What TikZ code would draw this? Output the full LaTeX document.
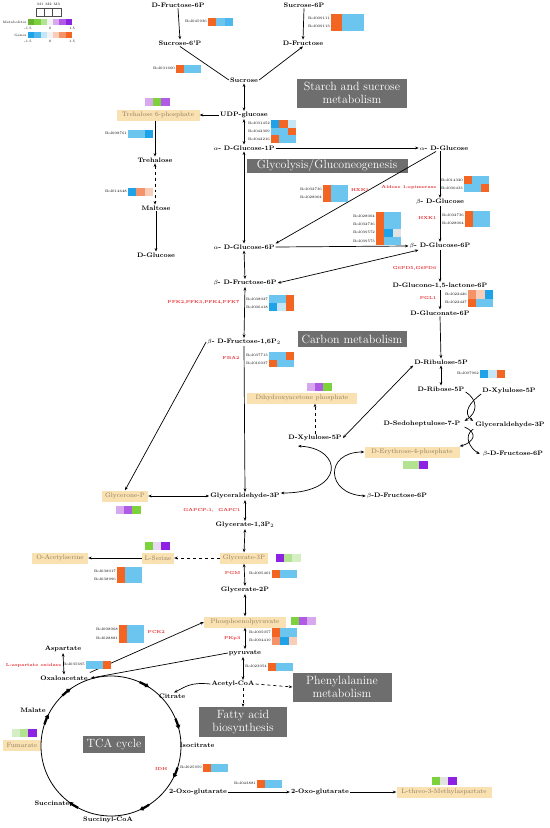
\documentclass[tikz,border=0pt]{standalone}
\usepackage{tikz}
\usetikzlibrary{arrows.meta,calc}
\definecolor{cO}{HTML}{F26522}
\definecolor{cLB}{HTML}{6CC5EF}
\definecolor{cLBb}{HTML}{4DB8EE}
\definecolor{cB}{HTML}{1FA2E8}
\definecolor{cVLB}{HTML}{C5E6F6}
\definecolor{cGR}{HTML}{E3E3E3}
\definecolor{cS}{HTML}{F4936A}
\definecolor{cLS}{HTML}{F9CDB8}
\definecolor{mG}{HTML}{7DD13A}
\definecolor{mLG}{HTML}{B3E290}
\definecolor{mVLG}{HTML}{D3EFC3}
\definecolor{mDP}{HTML}{8E22E2}
\definecolor{mMP}{HTML}{AF5BE6}
\definecolor{mLP}{HTML}{D7A8F0}
\definecolor{mVLP}{HTML}{E7DAF2}
\definecolor{mGR}{HTML}{E2E2E2}
\definecolor{boxfill}{HTML}{FAE1B2}
\definecolor{boxtext}{HTML}{8C7B5E}
\definecolor{greybox}{HTML}{6E6E6E}
\definecolor{enzred}{HTML}{E5262A}
\newcommand\hmw{8.3}
\newcommand\hmh{7.5}
\newcommand\hmrow[6]{%
  \node[gid] (#3) at ({#1-0.6},{#2+\hmh/2}) {#3};
  \fill[#4] (#1,#2) rectangle ++(\hmw,\hmh);
  \fill[#5] ({#1+\hmw},#2) rectangle ++(\hmw,\hmh);
  \fill[#6] ({#1+2*\hmw},#2) rectangle ++(\hmw,\hmh);
}
\newcommand\mcells[5]{%
  \fill[#3] (#1,#2) rectangle ++(8.2,7.5);
  \fill[#4] ({#1+8.2},#2) rectangle ++(8.2,7.5);
  \fill[#5] ({#1+16.4},#2) rectangle ++(8.2,7.5);
}
\begin{document}
\begin{tikzpicture}[x=1bp,y=-1bp,
  met/.style={font=\bfseries\fontsize{6.5}{7}\selectfont, inner sep=1pt},
  hbox/.style={fill=boxfill, text=boxtext, font=\fontsize{6.5}{7}\selectfont, inner sep=1.5pt, minimum height=11bp},
  gbox/.style={fill=greybox, text=white, font=\fontsize{12}{13.5}\selectfont, align=center, inner sep=1pt},
  enz/.style={text=enzred, font=\bfseries\fontsize{4.3}{5}\selectfont, inner sep=0.5pt},
  gid/.style={font=\fontsize{3.6}{4}\selectfont, inner sep=0.3pt, anchor=east},
  arr/.style={-{Stealth[length=3.5bp,width=2.8bp]}, line width=0.7bp},
  darr/.style={{Stealth[length=3.5bp,width=2.8bp]}-{Stealth[length=3.5bp,width=2.8bp]}, line width=0.7bp},
  ln/.style={line width=0.7bp},
  lg/.style={font=\fontsize{3.4}{4}\selectfont, inner sep=0.3pt}]
\useasboundingbox (0,0) rectangle (550,828);

% ---------- legend ----------
\node[lg] (lm1) at (40.2,4.5) {M1};
\node[lg] (lm2) at (48.5,4.5) {M2};
\node[lg] (lm3) at (56.8,4.5) {M3};
\foreach \i in {0,1,2} \draw[black!70, line width=0.5bp] ({36+\i*8.3},8) rectangle ++(8.3,8);
\node[lg, anchor=east] (lmet) at (27,22) {Metabolites};
\node[lg, anchor=east] (lgen) at (27,35) {Genes};
\foreach \c [count=\i from 0] in {mG!85!black,mG,mLG,white!95!black,mLP,mMP,mDP}
  \fill[\c] ({28+\i*6.29},19) rectangle ++(6.29,6);
\foreach \c [count=\i from 0] in {cB,cLBb,cVLB,white!95!black,cLS,cS,cO}
  \fill[\c] ({28+\i*6.29},32) rectangle ++(6.29,6);
\node[lg] (t1) at (28,28) {-1.5};
\node[lg] (t2) at (50,28) {0};
\node[lg] (t3) at (72,28) {1.5};
\node[lg] (t4) at (28,41.5) {-1.5};
\node[lg] (t5) at (50,41.5) {0};
\node[lg] (t6) at (72,41.5) {1.5};

% ---------- grey pathway boxes ----------
\node[gbox, minimum width=110bp, minimum height=29bp] (starch) at (352,93) {Starch and sucrose\\metabolism};
\node[gbox, minimum width=161bp, minimum height=14bp] (glyco) at (327,166) {Glycolysis/Gluconeogenesis};
\node[gbox, minimum width=109bp, minimum height=16bp] (carbon) at (352,339) {Carbon metabolism};
\node[gbox, minimum width=62bp, minimum height=17bp] (tca) at (114,744) {TCA cycle};
\node[gbox, minimum width=99bp, minimum height=29bp] (phe) at (342,687) {Phenylalanine\\metabolism};
\node[gbox, minimum width=88bp, minimum height=30bp] (fatty) at (243,722) {Fatty acid\\biosynthesis};

% ---------- metabolites ----------
\node[met] (fru6p) at (178,5) {D-Fructose-6P};
\node[met] (suc6p) at (304,5) {Sucrose-6P};
\node[met] (suc6pp) at (180,43) {Sucrose-6'P};
\node[met] (dfru) at (303,43) {D-Fructose};
\node[met] (sucrose) at (244,80) {Sucrose};
\node[met] (udpg) at (244,115) {UDP-glucose};
\node[hbox, minimum width=83bp] (t6p) at (158,115) {Trehalose 6-phosphate};
\node[met] (treh) at (155,160) {Trehalose};
\node[met] (malt) at (156,208) {Maltose};
\node[met] (dglc) at (156,255) {D-Glucose};
\node[met] (ag1p) at (244,148) {$\alpha$- D-Glucose-1P};
\node[met] (aglc) at (444,148) {$\alpha$- D-Glucose};
\node[met] (ag6p) at (244,247) {$\alpha$- D-Glucose-6P};
\node[met] (bglc) at (440,202) {$\beta$- D-Glucose};
\node[met] (bg6p) at (440,246) {$\beta$- D-Glucose-6P};
\node[met] (glucono) at (440,286) {D-Glucono-1,5-lactone-6P};
\node[met] (gluconate) at (440,313) {D-Gluconate-6P};
\node[met] (ribu) at (441,362) {D-Ribulose-5P};
\node[met] (ribo) at (441,389) {D-Ribose-5P};
\node[met] (xylR) at (509,391) {D-Xylulose-5P};
\node[met] (sedo) at (422,424) {D-Sedoheptulose-7-P};
\node[met] (gapR) at (510,425) {Glyceraldehyde-3P};
\node[met] (f6pR) at (513,454) {$\beta$-D-Fructose-6P};
\node[hbox, minimum width=95bp] (e4p) at (412,452) {D-Erythrose-4-phosphate};
\node[met] (xylL) at (315,438) {D-Xylulose-5P};
\node[hbox, minimum width=110bp] (dhap) at (302,398) {Dihydroxyacetone phosphate};
\node[met] (bf6p) at (245,283) {$\beta$- D-Fructose-6P};
\node[met] (bf16) at (244,342) {$\beta$- D-Fructose-1,6P$_2$};
\node[met] (gap) at (245,496) {Glyceraldehyde-3P};
\node[hbox, minimum width=46bp] (gly) at (125,496) {Glycerone-P};
\node[met] (f6pM) at (397,496) {$\beta$-D-Fructose-6P};
\node[met] (g13) at (245,525) {Glycerate-1,3P$_2$};
\node[hbox, minimum width=48bp] (g3p) at (244,558) {Glycerate-3P};
\node[hbox, minimum width=32bp] (ser) at (158,558) {L-Serine};
\node[hbox, minimum width=56bp] (oas) at (60,558) {O-Acetylserine};
\node[met] (g2p) at (245,590) {Glycerate-2P};
\node[hbox, minimum width=82bp] (pep) at (245,622) {Phosphoenolpyruvate};
\node[met] (pyr) at (245,653) {pyruvate};
\node[met] (acoa) at (233,684) {Acetyl-CoA};
\node[met] (cit) at (172,696) {Citrate};
\node[met] (isocit) at (197,745) {Isocitrate};
\node[met] (oxo1) at (198,792) {2-Oxo-glutarate};
\node[met] (oxo2) at (320,792) {2-Oxo-glutarate};
\node[hbox, minimum width=95bp] (meth) at (444,792) {L-threo-3-Methylaspartate};
\node[met] (succoa) at (108,820) {Succinyl-CoA};
\node[met] (succ) at (52,803) {Succinate};
\node[hbox, minimum width=38bp] (fum) at (22,745) {Fumarate};
\node[met] (mal) at (33,710) {Malate};
\node[met] (oaa) at (64,678) {Oxaloacetate};
\node[met] (asp) at (63,649) {Aspartate};

% ---------- connectors ----------
\draw[arr] (fru6p.south) -- (suc6pp.north);
\draw[arr] (suc6p.south) -- (dfru.north);
\draw[ln] (suc6pp.south) -- (sucrose.west);
\draw[arr] (sucrose.east) -- (dfru.south);
\draw[darr] (sucrose.south) -- (udpg.north);
\draw[arr] (udpg.west) -- (t6p.east);
\draw[arr] (t6p.south -| treh.north) -- (treh.north);
\draw[darr, dashed] (treh.south) -- (treh.south |- malt.north);
\draw[arr] (malt.south) -- (dglc.north);
\draw[darr] (udpg.south) -- (ag1p.north);
\draw[arr] (ag1p.east) -- (aglc.west);
\draw[darr] (ag1p.south) -- (ag6p.north);
\draw[arr] ([xshift=-8bp]aglc.south) -- (ag6p.north east);
\draw[arr] (ag6p.east) -- (bg6p.west);
\draw[arr] (aglc.south -| bglc.north) -- (bglc.north);
\draw[arr] (bglc.south) -- (bg6p.north);
\draw[darr] (bf6p.east) -- ([xshift=10bp]bg6p.south west);
\draw[darr] (ag6p.south) -- (bf6p.north);
\draw[darr] (bf6p.south) -- (bf16.north);
\draw[arr] (bg6p.south) -- (glucono.north);
\draw[arr] (glucono.south) -- (gluconate.north);
\draw[arr] (gluconate.south) -- (ribu.north);
\draw[darr] (ribu.south) -- (ribo.north);
\draw[darr] (xylL.east) -- (ribu.south west);
\draw[arr, dashed] (xylL.north) -- (xylL.north |- dhap.south);
\draw[arr] (bf16.west) -- (gly.north);
\draw[arr] (bf16.south) -- (gap.north);
\draw[darr] (gly.east) -- (gap.west);
\draw[darr] ([xshift=-17bp,yshift=-4bp]xylL.south) .. controls +(45,2) and +(65,0) .. ([yshift=3bp]gap.east);
\draw[darr] (e4p.west) .. controls +(-40,0) and +(-40,-2) .. (f6pM.west);
\draw[arr] ([yshift=-3bp]ribo.east) .. controls +(13,8) and +(13,-8) .. ([xshift=3bp,yshift=-1bp]sedo.north east);
\draw[arr] ([yshift=-3bp]xylR.west) .. controls +(-11,8) and +(-11,-8) .. ([xshift=-1bp]gapR.north west);
\draw[arr] ([xshift=3bp,yshift=1bp]sedo.south east) .. controls +(14,6) and +(14,-4) .. (e4p.north east);
\draw[arr] ([xshift=-1bp]gapR.south west) .. controls +(-10,7) and +(-10,-6) .. ([xshift=-2bp]f6pR.west);
\draw[darr] (gap.south) -- (g13.north);
\draw[darr] (g13.south) -- (g3p.north);
\draw[arr, dashed] (g3p.west) -- (ser.east);
\draw[arr] (ser.west) -- (oas.east);
\draw[darr] (g3p.south) -- (g2p.north);
\draw[darr] (g2p.south) -- (pep.north);
\draw[darr] (pep.south) -- (pyr.north);
\draw[darr] ([xshift=-2bp]pyr.south) -- ([xshift=-2bp]pyr.south |- acoa.north);
\draw[arr, dashed] (acoa.east) -- (phe.west);
\draw[arr, dashed] ([xshift=10bp]acoa.south) -- ([xshift=10bp]acoa.south |- fatty.north);
\draw[arr] (acoa.west) .. controls +(-20,-2) and +(12,-6) .. ([xshift=2bp]cit.north);
\draw[arr] ([xshift=1bp,yshift=2bp]oaa.north east) -- (pep.west);
\draw[arr] (pyr.west) -- ([xshift=2bp]oaa.east);
\draw[darr] (asp.south) -- (oaa.north);
\draw[arr] (oxo1.east) -- (oxo2.west);
\draw[arr] (oxo2.east) -- (meth.west);

% ---------- TCA cycle ----------
\coordinate (tc) at (111,746);
\draw[line width=0.8bp] (tc) circle[radius=70bp];
\foreach \a in {134,66,23,-18,-57,-118,162}
  \draw[line width=2.3bp, -{Triangle[length=4bp,width=4.5bp]}] ($(tc)+(\a:70bp)$) arc[start angle=\a, end angle=\a-9, radius=70bp];

% ---------- enzymes ----------
\node[enz] (e1) at (360,190) {HXK1};
\node[enz, anchor=east] (e2) at (437,187) {Aldose 1-epimerase};
\node[enz, anchor=east] (e3) at (437,218) {HXK1};
\node[enz, anchor=east] (e4) at (437,268) {G6PD5,G6PD6};
\node[enz, anchor=east] (e5) at (437,298) {PGL1};
\node[enz, anchor=east] (e6) at (240,302) {PFK2,PFK3,PFK4,PFK7};
\node[enz, anchor=east] (e7) at (240,358) {FBA2};
\node[enz, anchor=east] (e8) at (241,510) {GAPCP-1,\ \ GAPC1};
\node[enz, anchor=east] (e9) at (241,573) {PGM};
\node[enz, anchor=west] (e10) at (147,632) {PCK2};
\node[enz, anchor=east] (e11) at (241,638) {PKp3};
\node[enz, anchor=east] (e12) at (62,665) {L-aspartate oxidase};
\node[enz, anchor=east] (e13) at (168,769) {IDH};

% ---------- gene heat maps ----------
\hmrow{208}{18}{Bol045936}{cO}{cLB}{cLBb}
{\renewcommand\hmw{11}\renewcommand\hmh{8.5}
 \hmrow{331}{14}{Bol009111}{cO}{cLB}{cLB}
 \hmrow{331}{22.5}{Bol009113}{cO}{cLB}{cLB}}
\hmrow{176}{65}{Bol031600}{cO}{cLB}{cLB}
\hmrow{271}{120}{Bol031452}{cB}{cO}{cVLB}
\hmrow{271}{127.7}{Bol042309}{cLB}{cLB}{cO}
\hmrow{271}{135.4}{Bol042216}{cO}{cLB}{cLB}
\hmrow{128}{130}{Bol008761}{cLB}{cLB}{cB}
\hmrow{128}{188}{Bol014648}{cB}{cS}{cLS}
{\renewcommand\hmh{8.5}
 \hmrow{323}{185}{Bol032736}{cO}{cLB}{cLB}
 \hmrow{323}{193.5}{Bol028004}{cO}{cLB}{cLB}}
{\renewcommand\hmh{8.25}
 \hmrow{376}{212}{Bol028004}{cO}{cLB}{cLB}
 \hmrow{376}{220.25}{Bol032736}{cO}{cLB}{cLB}
 \hmrow{376}{228.5}{Bol039572}{cO}{cB}{cGR}
 \hmrow{376}{236.75}{Bol039573}{cO}{cLB}{cLB}}
{\renewcommand\hmh{8}
 \hmrow{464}{176}{Bol014320}{cO}{cLB}{cLB}
 \hmrow{464}{184}{Bol030433}{cLB}{cLB}{cO}
 \hmrow{465}{211}{Bol032736}{cO}{cLB}{cLB}
 \hmrow{465}{219}{Bol028004}{cO}{cLB}{cLB}}
{\renewcommand\hmh{8.5}
 \hmrow{468}{290}{Bol022426}{cS}{cLS}{cB}
 \hmrow{468}{298.5}{Bol022427}{cO}{cLB}{cLB}}
\hmrow{480}{370}{Bol007962}{cB}{cVLB}{cO}
{\renewcommand\hmh{8}
 \hmrow{269}{295}{Bol038027}{cLB}{cLB}{cO}
 \hmrow{269}{303}{Bol006418}{cB}{cVLB}{cO}}
\hmrow{269}{352}{Bol037713}{cLB}{cLB}{cO}
\hmrow{269}{359.5}{Bol010037}{cO}{cLB}{cLB}
{\renewcommand\hmh{8}
 \hmrow{117}{567}{Bol038017}{cO}{cLB}{cLB}
 \hmrow{117}{575}{Bol038996}{cO}{cLB}{cLB}}
\hmrow{272}{570}{Bol005401}{cO}{cLB}{cLB}
{\renewcommand\hmh{9}
 \hmrow{119}{625}{Bol008068}{cO}{cLB}{cLB}
 \hmrow{119}{634}{Bol028881}{cO}{cLB}{cLB}}
\hmrow{86}{661}{Bol035695}{cLB}{cLB}{cO}
{\renewcommand\hmh{8.5}
 \hmrow{272}{628}{Bol005057}{cO}{cLB}{cLB}
 \hmrow{272}{636.5}{Bol004419}{cS}{cB}{cLS}}
\hmrow{268}{663}{Bol023054}{cO}{cLB}{cLB}
\hmrow{203}{764}{Bol025959}{cO}{cLB}{cLB}
\hmrow{257}{780}{Bol043881}{cO}{cLB}{cLB}

% ---------- metabolite heat maps ----------
\mcells{145}{98}{mLP}{mG}{mMP}
\mcells{307}{383}{mLP}{mMP}{mG}
\mcells{403}{461}{mLG}{mLG}{mDP}
\mcells{116}{506}{mLP}{mMP}{mG}
\mcells{145}{542}{mG}{mVLP}{mDP}
\mcells{276}{554}{mDP}{mLG}{mVLG}
\mcells{291}{617}{mG}{mMP}{mLP}
\mcells{12}{729}{mVLG}{mLG}{mDP}
\mcells{432}{777}{mG}{mGR}{mDP}
\end{tikzpicture}
\end{document}
